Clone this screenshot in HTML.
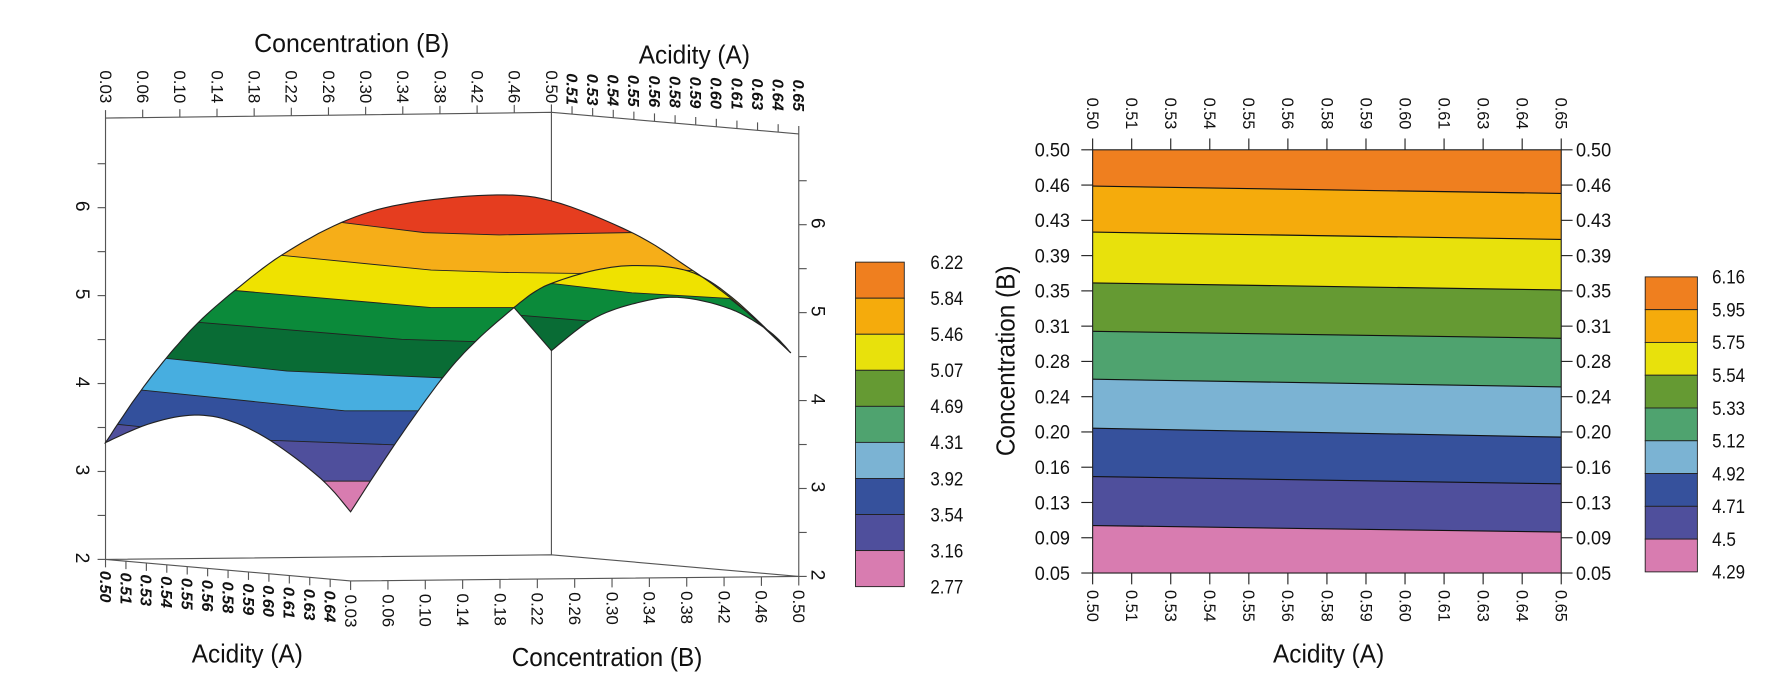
<!DOCTYPE html>
<html><head><meta charset="utf-8"><style>
html,body{margin:0;padding:0;background:#fff;}
svg{display:block;}
text{font-family:"Liberation Sans",sans-serif;fill:#111;}
</style></head><body>
<svg id="root" width="1770" height="699" viewBox="0 0 1560 616" xmlns="http://www.w3.org/2000/svg">
<defs>
<clipPath id="surfClip"><path id="surfPath" d=""/></clipPath>
<clipPath id="rightClip"><path id="rightPath" d=""/></clipPath>
<clipPath id="plotClip"><rect x="963" y="132" width="413" height="373"/></clipPath>
</defs>

<g id="left-chart">
  <g id="box" stroke="#555" stroke-width="1" fill="none">
    <polyline points="93,104 486,99 704,118"/>
    <line x1="93" y1="104" x2="93" y2="493"/>
    <line x1="486" y1="99" x2="486" y2="489"/>
    <line x1="704" y1="118" x2="704" y2="508"/>
    <polyline points="93,493 486,489 704,508"/>
    <polyline points="93,493 309,512 704,508"/>
  </g>
  <g id="surface">
    <g clip-path="url(#surfClip)" stroke="#222" stroke-width="0.8">
      <rect x="60" y="100" width="700" height="400" fill="#d87cb0" stroke="none"/>
      <polygon fill="#4f4f9c" points="40,424 283,424 324,424 740,424 740,0 40,0"/>
      <polygon fill="#33509c" points="40,368 104,374 238,388 347,392 740,392 740,0 40,0"/>
      <polygon fill="#47aee0" points="40,336 127,344 304,362 367,362 740,362 740,0 40,0"/>
      <polygon fill="#096c35" points="40,308 148,316 253,327 390,333 740,333 740,0 40,0"/>
      <polygon fill="#0b8a3a" points="40,276 175,284 354,299 417,301 740,301 740,0 40,0"/>
      <polygon fill="#efe200" points="40,250 207,256 380,271 453,271 740,271 740,0 40,0"/>
      <polygon fill="#f6ae18" points="40,215 248,225 380,238 440,240 509,241 600,238 740,245 740,0 40,0"/>
      <polygon fill="#e53d1f" points="40,190 301,196 374,205 440,207 554,205 740,205 740,0 40,0"/>
    </g>
    <g clip-path="url(#rightClip)" stroke="#222" stroke-width="0.8">
      <rect x="440" y="220" width="270" height="100" fill="#096c35" stroke="none"/>
      <polygon fill="#0b8a3a" points="440,277 460,278 521,283 740,290 740,0 440,0"/>
      <polygon fill="#efe200" points="440,250 488,250 557,258 643,263 690,300 740,330 740,0 440,0"/>
    </g>
    <path id="surfOutline" d="" fill="none" stroke="#222" stroke-width="1"/>
    <path id="humpOutline" d="" fill="none" stroke="#222" stroke-width="1"/>
  </g>
  <g id="leftTicks"></g>
  <text x="310" y="46" font-size="23" text-anchor="middle" textLength="172" lengthAdjust="spacingAndGlyphs">Concentration (B)</text>
  <text x="612" y="56" font-size="23" text-anchor="middle" textLength="98" lengthAdjust="spacingAndGlyphs">Acidity (A)</text>
  <text x="218" y="584" font-size="23" text-anchor="middle" textLength="98" lengthAdjust="spacingAndGlyphs">Acidity (A)</text>
  <text x="535" y="587" font-size="23" text-anchor="middle" textLength="168" lengthAdjust="spacingAndGlyphs">Concentration (B)</text>
  <g id="leftLegend"></g>
</g>

<g id="right-chart">
  <g id="bands" clip-path="url(#plotClip)"></g>
  <rect x="963" y="132" width="413" height="373" fill="none" stroke="#222" stroke-width="1"/>
  <g id="rightAxes"></g>
  <text x="1171" y="584" font-size="23" text-anchor="middle" textLength="98" lengthAdjust="spacingAndGlyphs">Acidity (A)</text>
  <text transform="translate(894,318) rotate(-90)" font-size="23" text-anchor="middle" textLength="168" lengthAdjust="spacingAndGlyphs">Concentration (B)</text>
  <g id="rightLegend"></g>
</g>
</svg>
<script>
// ---- contour chart data ----
const acidTicks = ["0.50","0.51","0.53","0.54","0.55","0.56","0.58","0.59","0.60","0.61","0.63","0.64","0.65"];
const concTicks = ["0.50","0.46","0.43","0.39","0.35","0.31","0.28","0.24","0.20","0.16","0.13","0.09","0.05"];
const boundAtA050 = [0.1005,0.1526,0.2040,0.2561,0.3070,0.3584,0.4125,0.4614];
const boundAtA065 = [0.0935,0.1448,0.1945,0.2479,0.2996,0.3510,0.4047,0.4536];
const contourLevels = ["6.16","5.95","5.75","5.54","5.33","5.12","4.92","4.71","4.5","4.29"];
const bandColors = ["#d87cb0","#4f4f9c","#36519c","#7bb3d3","#4fa36f","#659a33","#e8e10c","#f5ab0c","#ef7f1f"];
// ---- 3D surface chart labels ----
const surfLevels = ["6.22","5.84","5.46","5.07","4.69","4.31","3.92","3.54","3.16","2.77"];
const surfColors = ["#ef7f1f","#f5ab0c","#e8e10c","#659a33","#4fa36f","#7bb3d3","#36519c","#4f4f9c","#d87cb0"];
const concLabels3d = ["0.03","0.06","0.10","0.14","0.18","0.22","0.26","0.30","0.34","0.38","0.42","0.46","0.50"];
const acidLabels3d = ["0.50","0.51","0.53","0.54","0.55","0.56","0.58","0.59","0.60","0.61","0.63","0.64","0.65"];
const zTicks = [2,3,4,5,6];

const NS="http://www.w3.org/2000/svg";
function mk(tag,attrs,parent,txt){const e=document.createElementNS(NS,tag);for(const k in attrs)e.setAttribute(k,attrs[k]);if(txt!==undefined)e.textContent=txt;parent.appendChild(e);return e;}

function smooth(pts){
  const out=[];
  for(let i=0;i<pts.length-1;i++){
    const p0=pts[Math.max(0,i-1)],p1=pts[i],p2=pts[i+1],p3=pts[Math.min(pts.length-1,i+2)];
    for(let s=0;s<8;s++){
      const t=s/8,t2=t*t,t3=t2*t;
      const f=(a,b,c,d)=>0.5*(2*b+(-a+c)*t+(2*a-5*b+4*c-d)*t2+(-a+3*b-3*c+d)*t3);
      out.push([f(p0[0],p1[0],p2[0],p3[0]),f(p0[1],p1[1],p2[1],p3[1])]);
    }
  }
  out.push(pts[pts.length-1]);
  return out;
}
const outer=smooth([[93,390],[120,350],[147,315],[175,284],[207,256],[248,225],[301,196],[354,180],[430,172],[486,177],[557,205],[607,236],[648,266],[697,311]]);
const innerR=smooth([[697,311],[678,292],[643,272],[597,262],[557,268],[521,282],[486,309]]);
const innerM=smooth([[453,271],[420,300],[390,333],[349,390],[309,451]]);
const innerL=smooth([[309,451],[283,422],[238,388],[200,370],[167,366],[130,374],[93,390]]);
const hump=smooth([[453,271],[470,258],[488,249],[525,238],[562,234],[607,239],[645,262],[697,311]]);
const toD=a=>a.map((p,i)=>(i?'L':'M')+p[0].toFixed(1)+','+p[1].toFixed(1)).join(' ');
const surfD=toD(outer.concat(innerR,innerM,innerL))+' Z';
document.getElementById('surfPath').setAttribute('d',surfD);
document.getElementById('surfOutline').setAttribute('d',surfD);
document.getElementById('rightPath').setAttribute('d',toD(hump.concat(innerR))+' Z');
document.getElementById('humpOutline').setAttribute('d',toD(hump));

const X0=963,X1=1376,Y0=132,Y1=505;
const xA=a=>X0+(a-0.50)/(0.65-0.50)*(X1-X0);
const yB=b=>Y1-(b-0.05)/(0.50-0.05)*(Y1-Y0);

const bandsG=document.getElementById('bands');
for(let i=0;i<bandColors.length;i++){
  const lowL=i===0?0.0:boundAtA050[i-1], lowR=i===0?0.0:boundAtA065[i-1];
  const hiL=i===bandColors.length-1?0.6:boundAtA050[i], hiR=i===bandColors.length-1?0.6:boundAtA065[i];
  const p=mk('polygon',{points:`${xA(0.50)},${yB(lowL)} ${xA(0.65)},${yB(lowR)} ${xA(0.65)},${yB(hiR)} ${xA(0.50)},${yB(hiL)}`,fill:bandColors[i]},bandsG);
  
  
}
for(let i=0;i<boundAtA050.length;i++){
  const l=mk('line',{x1:xA(0.50),y1:yB(boundAtA050[i]),x2:xA(0.65),y2:yB(boundAtA065[i]),stroke:'#111','stroke-width':1},bandsG);
  
  
}
const ax=document.getElementById('rightAxes');
acidTicks.forEach((t,i)=>{
  const x=X0+i*(X1-X0)/(acidTicks.length-1);
  mk('line',{x1:x,y1:Y0,x2:x,y2:Y0-10,stroke:'#222'},ax);
  mk('line',{x1:x,y1:Y1,x2:x,y2:Y1+10,stroke:'#222'},ax);
  const a=mk('text',{transform:`translate(${x-5},86) rotate(90)`,'font-size':15,textLength:28,lengthAdjust:'spacingAndGlyphs'},ax,t);
  
  
  const b=mk('text',{transform:`translate(${x-5},520) rotate(90)`,'font-size':15,textLength:28,lengthAdjust:'spacingAndGlyphs'},ax,t);
  
  
});
concTicks.forEach((t,i)=>{
  const y=Y0+i*(Y1-Y0)/(concTicks.length-1);
  mk('line',{x1:X0,y1:y,x2:X0-10,y2:y,stroke:'#222'},ax);
  mk('line',{x1:X1,y1:y,x2:X1+10,y2:y,stroke:'#222'},ax);
  const a=mk('text',{x:912,y:y+6,'font-size':17,textLength:31,lengthAdjust:'spacingAndGlyphs'},ax,t);
  
  
  const b=mk('text',{x:1389,y:y+6,'font-size':17,textLength:31,lengthAdjust:'spacingAndGlyphs'},ax,t);
  
  
});
function legend(gid,x,y0,y1,w,levels,colors,lx){
  const g=document.getElementById(gid);
  const n=colors.length,h=(y1-y0)/n;
  for(let i=0;i<n;i++){
    const r=mk('rect',{x:x,y:y0+i*h,width:w,height:h,fill:colors[i],stroke:'#222','stroke-width':0.8},g);
    
    
  }
  levels.forEach((t,i)=>{
    const tx=mk('text',{x:lx,y:y0+i*h+6,'font-size':17,textLength:t.length>3?29:21,lengthAdjust:'spacingAndGlyphs'},g,t);
    
    
  });
}
legend('rightLegend',1450,244,504,46,contourLevels,bandColors.slice().reverse(),1509);
legend('leftLegend',754,231,517,43,surfLevels,surfColors,820);

const lt=document.getElementById('leftTicks');
const zL=v=>493-(v-2)*77.5, zR=v=>508-(v-2)*77.5;
for(let v=2;v<=6.5;v+=0.5){
  mk('line',{x1:86,y1:zL(v),x2:93,y2:zL(v),stroke:'#555'},lt);
  mk('line',{x1:704,y1:zR(v),x2:711,y2:zR(v),stroke:'#555'},lt);
}
zTicks.forEach(v=>{
  const a=mk('text',{transform:`translate(67,${zL(v)-6}) rotate(90)`,'font-size':17},lt,String(v));
  
  
  const b=mk('text',{transform:`translate(715,${zR(v)-6}) rotate(90)`,'font-size':17},lt,String(v));
  
  
});
const lerp=(p,q,t)=>[p[0]+(q[0]-p[0])*t,p[1]+(q[1]-p[1])*t];
concLabels3d.forEach((t,i)=>{
  const [x,y]=lerp([93,104],[486,99],i/(concLabels3d.length-1));
  mk('line',{x1:x,y1:y,x2:x,y2:y-7,stroke:'#555'},lt);
  const a=mk('text',{transform:`translate(${x-5},62) rotate(90)`,'font-size':15,textLength:29,lengthAdjust:'spacingAndGlyphs'},lt,t);
  
  
});
acidLabels3d.slice(1).forEach((t,i)=>{
  const k=(i+1)/(acidLabels3d.length-1);
  const [x,y]=lerp([486,99],[704,118],k);
  mk('line',{x1:x,y1:y,x2:x,y2:y-7,stroke:'#555'},lt);
  const a=mk('text',{transform:`translate(${x-5},${64+k*6}) rotate(90)`,'font-size':14,'font-weight':'bold','font-style':'italic',textLength:28,lengthAdjust:'spacingAndGlyphs'},lt,t);
  
  
});
acidLabels3d.slice(0,12).forEach((t,i)=>{
  const k=i/12;
  const [x,y]=lerp([93,493],[309,512],k);
  mk('line',{x1:x,y1:y,x2:x,y2:y+7,stroke:'#555'},lt);
  const a=mk('text',{transform:`translate(${x-5},${y+10}) rotate(90)`,'font-size':14,'font-weight':'bold','font-style':'italic',textLength:28,lengthAdjust:'spacingAndGlyphs'},lt,t);
  
  
});
concLabels3d.forEach((t,i,arr)=>{
  const k=i/(arr.length-1);
  const [x,y]=lerp([309,512],[704,508],k);
  mk('line',{x1:x,y1:y,x2:x,y2:y+8,stroke:'#555'},lt);
  const a=mk('text',{transform:`translate(${x-5},${y+12}) rotate(90)`,'font-size':15,textLength:29,lengthAdjust:'spacingAndGlyphs'},lt,t);
  
  
});
</script>
</body></html>
